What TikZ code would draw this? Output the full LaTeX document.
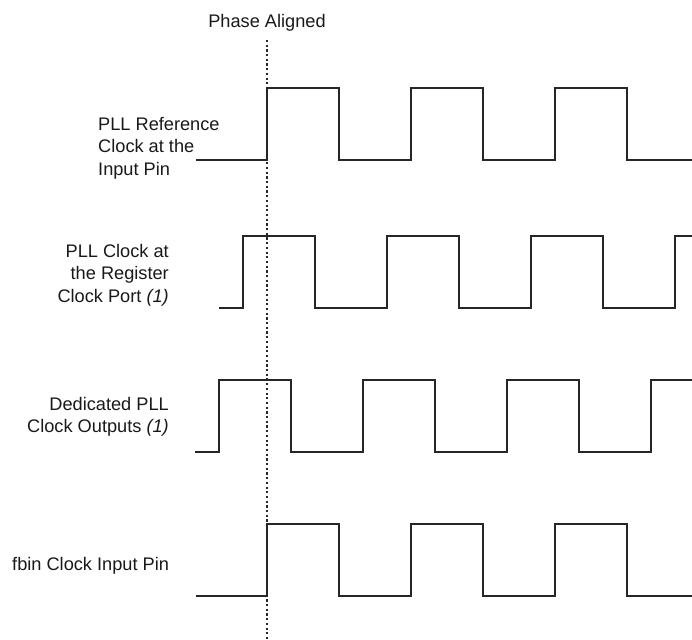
\documentclass[tikz,border=0pt]{standalone}
\usepackage{fontspec}
\setmainfont{Liberation Sans}
\begin{document}
\begin{tikzpicture}[x=1pt,y=-1pt,
  wave/.style={line width=1.2pt,draw=black!85,line join=miter},
  guide/.style={line width=1.2pt,draw=black!85,dash pattern=on 2.2pt off 2.5pt},
  lbl/.style={inner sep=0pt,text=black!90,font=\fontsize{18.2}{22.5}\selectfont}]
\useasboundingbox (0,0) rectangle (692,639);
% guide line and title
\coordinate (gtop) at (267,40);
\coordinate (gbot) at (267,639);
\node[lbl,anchor=base] (title) at (267,28) {Phase Aligned};
\draw[guide] (gtop) -- (gbot);
% labels
\node[lbl,anchor=north west,align=left] (l1) at (98,117) {PLL Reference\\Clock at the\\Input Pin};
\node[lbl,anchor=north east,align=right] (l2) at (169,244) {PLL Clock at\\the Register\\Clock Port \textit{(1)}};
\node[lbl,anchor=north east,align=right] (l3) at (169,397) {Dedicated PLL\\Clock Outputs \textit{(1)}};
\node[lbl,anchor=base west] (l4) at (12,570) {fbin Clock Input Pin};
% waveforms
\draw[wave] (196,160) -- (267,160) |- (339,88) |- (411,160) |- (483,88) |- (555,160) |- (627,88) |- (692,160);
\draw[wave] (219,308) -- (243,308) |- (315,236) |- (387,308) |- (459,236) |- (531,308) |- (603,236) |- (675,308) |- (692,236);
\draw[wave] (195,452) -- (219,452) |- (291,380) |- (363,452) |- (435,380) |- (507,452) |- (579,380) |- (651,452) |- (692,380);
\draw[wave] (196,596) -- (267,596) |- (339,524) |- (411,596) |- (483,524) |- (555,596) |- (627,524) |- (692,596);
\end{tikzpicture}
\end{document}
